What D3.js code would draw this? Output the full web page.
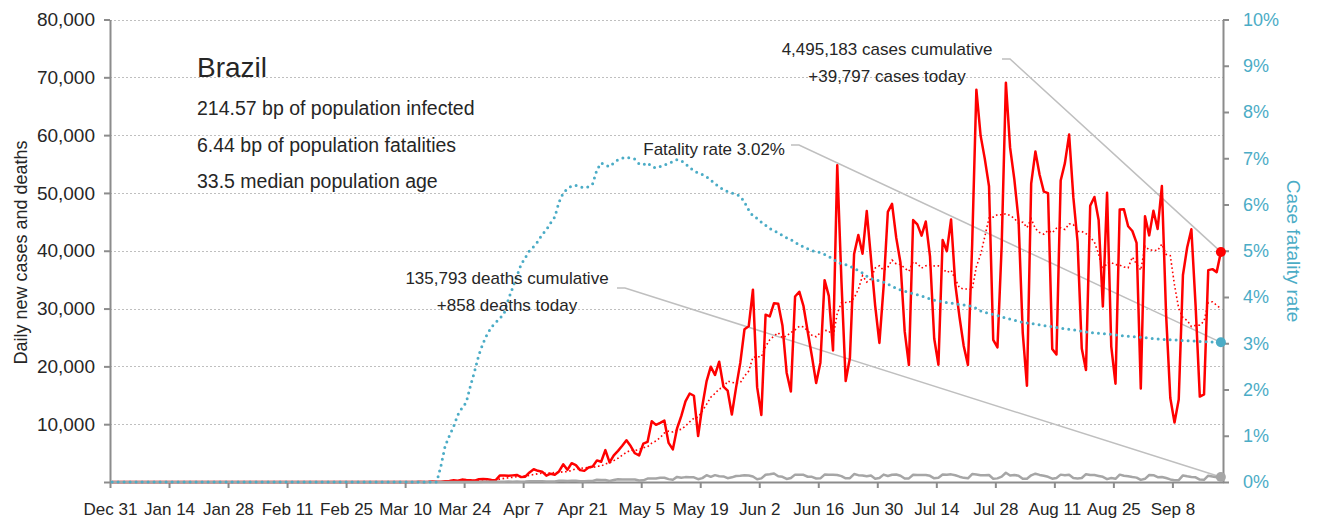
<!DOCTYPE html>
<html lang="en">
<head>
    <meta charset="UTF-8">
    <title>Brazil - daily cases, deaths and case fatality rate</title>
    <script src="https://d3js.org/d3.v7.min.js"></script>
    <style>
        body { margin: 0; background: #ffffff; }
        svg { display: block; }
    </style>
</head>
<body>
    <div id="chart"></div>
    <script>
        // ---- data: one value per reported day, first entry is Dec 31 2019 ----
        var startDate = "2019-12-31";
        var countryName = "Brazil";
        var infoLines = ["214.57 bp of population infected", "6.44 bp of population fatalities", "33.5 median population age"];
        var totalCases = 4495183;
        var totalDeaths = 135793;

        var casesDecJan = [0,0,0,0,0,0,0,0,0,0, 0,0,0,0,0,0,0,0,0,0, 0,0,0,0,0,0,0,0,0,0, 0,0];
        var casesFeb = [0,0,0,0,0,0,0,0,0,0, 0,0,0,0,0,0,0,0,0,0, 0,0,0,0,0,1,0,0,0];
        var casesMar = [1,0,0,1,1,5,5,0,7,5, 9,18,25,21,23,79,34,57,137,193, 283,224,418,345,310,232,482,502,487,352, 323];
        var casesApr = [1138,1119,1074,1146,1222,852,926,1661,2210,1930, 1781,1089,1442,1261,1832,3058,2105,3257,2917,2055, 1927,2498,2678,3735,3503,5514,3379,4613,5385,6276];
        var casesMay = [7218,6209,4970,4588,6633,6935,10503,9888,10222,10611, 6760,5632,9258,11385,13944,15305,14919,7938,13140,17408, 19951,18508,20803,16508,15813,11687,16324,20599,26417,26928, 33274];
        var casesJun = [16409,11598,28936,28633,30925,30830,27075,18912,15654,32091, 32913,30412,25982,21704,17110,20647,34918,32188,22765,54771, 34666,17459,21432,39436,42725,39483,46860,38693,30476,24052];
        var casesJul = [33846,46712,48105,42223,37923,26051,20229,45305,44571,42619, 45048,39023,24831,20286,41857,39924,45403,34177,28532,23529, 20257,41008,67860,59961,55891,51147,24578,23284,40816,69074, 57837];
        var casesAug = [52383,45392,25800,16641,51603,57152,53139,50230,49970,23010, 22048,52160,55155,60091,49274,41576,23101,19373,47784,49298, 45323,30355,50032,23421,17000,47134,47161,44235,43412,41350, 16158];
        var casesSep = [45961,42659,46934,43773,51200,29000,14521,10273,14279,35816, 40557,43718,30500,14768,15155,36653,36820,36303,39797];

        var deathsDecJan = [0,0,0,0,0,0,0,0,0,0, 0,0,0,0,0,0,0,0,0,0, 0,0,0,0,0,0,0,0,0,0, 0,0];
        var deathsFeb = [0,0,0,0,0,0,0,0,0,0, 0,0,0,0,0,0,0,0,0,0, 0,0,0,0,0,0,0,0,0];
        var deathsMar = [0,0,0,0,0,0,0,0,0,0, 0,0,0,0,0,0,0,1,2,3, 5,7,9,12,12,20,15,22,22,22, 23];
        var deathsApr = [42,39,84,35,86,41,67,114,133,141, 115,68,99,105,204,204,188,217,206,115, 113,166,165,407,357,346,189,338,474,449];
        var deathsMay = [435,428,421,275,296,600,615,610,751,730, 496,396,881,749,844,824,816,485,674,1179, 888,1188,1001,965,653,807,1039,1086,1156,1124, 956];
        var deathsJun = [480,623,1262,1349,1473,1005,904,525,679,1272, 1274,1239,909,892,612,627,1282,1269,1238,1206, 1022,641,654,1374,1185,1141,990,1109,552,692];
        var deathsJul = [1280,1038,1252,1290,1091,602,620,1254,1223,1220, 1214,1071,631,733,1300,1261,1322,1163,921,716, 632,1367,1284,1156,1156,1211,555,627,921,1595, 1129];
        var deathsAug = [1212,1088,541,561,1154,1437,1226,1079,905,572, 703,1274,1175,1262,709,620,684,1352,1212,1204, 1054,892,494,684,553,1271,1085,984,855,758, 366];
        var deathsSep = [553,1215,1184,834,874,682,447,310,315,1136, 983,874,814,415,381,1090,967,829,858];

        // case fatality rate (%)
        var cfrDates = ["2019-12-31","2020-03-17","2020-03-18","2020-03-19","2020-03-20","2020-03-21","2020-03-22","2020-03-23","2020-03-24","2020-03-25",
            "2020-03-26","2020-03-27","2020-03-28","2020-03-29","2020-03-30","2020-03-31","2020-04-01","2020-04-02","2020-04-03","2020-04-04",
            "2020-04-05","2020-04-06","2020-04-07","2020-04-08","2020-04-09","2020-04-10","2020-04-11","2020-04-12","2020-04-13","2020-04-14",
            "2020-04-15","2020-04-16","2020-04-17","2020-04-18","2020-04-19","2020-04-20","2020-04-21","2020-04-22","2020-04-23","2020-04-24",
            "2020-04-25","2020-04-26","2020-04-27","2020-04-28","2020-04-29","2020-04-30","2020-05-01","2020-05-02","2020-05-03","2020-05-04",
            "2020-05-05","2020-05-06","2020-05-07","2020-05-08","2020-05-09","2020-05-10","2020-05-11","2020-05-12","2020-05-13","2020-05-14",
            "2020-05-15","2020-05-16","2020-05-17","2020-05-18","2020-05-19","2020-05-20","2020-05-21","2020-05-22","2020-05-23","2020-05-24",
            "2020-05-25","2020-05-26","2020-05-27","2020-05-28","2020-05-29","2020-05-30","2020-05-31","2020-06-01","2020-06-02","2020-06-03",
            "2020-06-04","2020-06-05","2020-06-06","2020-06-07","2020-06-08","2020-06-09","2020-06-10","2020-06-11","2020-06-12","2020-06-13",
            "2020-06-14","2020-06-15","2020-06-16","2020-06-17","2020-06-18","2020-06-19","2020-06-20","2020-06-21","2020-06-22","2020-06-23",
            "2020-06-24","2020-06-25","2020-06-26","2020-06-27","2020-06-28","2020-06-29","2020-06-30","2020-07-01","2020-07-02","2020-07-03",
            "2020-07-05","2020-07-07","2020-07-10","2020-07-13","2020-07-16","2020-07-19","2020-07-22","2020-07-24","2020-07-26","2020-07-28",
            "2020-07-31","2020-08-03","2020-08-07","2020-08-11","2020-08-15","2020-08-19","2020-08-23","2020-08-27","2020-08-31","2020-09-04",
            "2020-09-08","2020-09-12","2020-09-16","2020-09-19"];
        var cfrValues = [0,0,0.35,0.78,1.0,1.2,1.45,1.6,1.72,2.08,
            2.4,2.75,3.0,3.2,3.35,3.45,3.54,3.65,3.95,4.2,
            4.45,4.7,4.85,5.0,5.09,5.2,5.35,5.45,5.6,5.73,
            6.05,6.25,6.34,6.4,6.41,6.38,6.36,6.38,6.45,6.75,
            6.9,6.85,6.82,6.9,6.97,7.0,7.02,7.0,6.98,6.88,
            6.86,6.9,6.82,6.79,6.82,6.86,6.88,6.93,6.97,6.95,
            6.88,6.8,6.73,6.68,6.65,6.6,6.53,6.45,6.38,6.32,
            6.28,6.25,6.22,6.18,6.05,5.88,5.75,5.7,5.62,5.55,
            5.48,5.43,5.39,5.33,5.28,5.24,5.18,5.13,5.08,5.04,
            5.0,4.98,4.96,4.92,4.87,4.83,4.75,4.72,4.7,4.67,
            4.62,4.57,4.52,4.45,4.4,4.37,4.35,4.32,4.28,4.23,
            4.15,4.1,4.02,3.93,3.88,3.84,3.8,3.7,3.64,3.6,
            3.52,3.45,3.4,3.34,3.29,3.23,3.2,3.16,3.13,3.09,
            3.07,3.05,3.03,3.02];

        var xTickDates = ["2019-12-31","2020-01-14","2020-01-28","2020-02-11","2020-02-25","2020-03-10","2020-03-24","2020-04-07","2020-04-21","2020-05-05",
            "2020-05-19","2020-06-02","2020-06-16","2020-06-30","2020-07-14","2020-07-28","2020-08-11","2020-08-25","2020-09-08"];
        var yTicks = [0, 10000, 20000, 30000, 40000, 50000, 60000, 70000, 80000];
        var rateTicks = [0, 1, 2, 3, 4, 5, 6, 7, 8, 9, 10];

        var cases = [].concat(casesDecJan, casesFeb, casesMar, casesApr, casesMay, casesJun, casesJul, casesAug, casesSep);
        var deaths = [].concat(deathsDecJan, deathsFeb, deathsMar, deathsApr, deathsMay, deathsJun, deathsJul, deathsAug, deathsSep);

        // trailing 7 day average of new cases
        var avg7 = cases.map(function (d, i) {
            return d3.mean(cases.slice(Math.max(0, i - 6), i + 1));
        });

        // ---- layout ----
        var fontFamily = '"Liberation Sans", Arial, sans-serif';
        var textColor = "#262626";
        var axisColor = "#8c8c8c";
        var rateColor = "#4bacc6";
        var plotLeft = 110, plotRight = 1223, plotTop = 19.5, plotBottom = 482;

        var svg = d3.select("#chart").append("svg")
            .attr("width", 1324)
            .attr("height", 523)
            .attr("font-family", fontFamily);

        var parseDate = d3.timeParse("%Y-%m-%d");
        var day0 = parseDate(startDate);
        var dates = cases.map(function (d, i) { return d3.timeDay.offset(day0, i); });

        var x = d3.scaleTime()
            .domain([day0, d3.timeDay.offset(day0, cases.length)])
            .range([plotLeft, plotRight]);
        var y = d3.scaleLinear().domain([0, 80000]).range([plotBottom, plotTop]);
        var yRate = d3.scaleLinear().domain([0, 10]).range([plotBottom, plotTop]);

        // a day is drawn in the middle of its slot
        function mid(date) { return x(d3.timeHour.offset(date, 12)); }

        //gridlines
        svg.append("g")
            .selectAll("line")
            .data(yTicks.filter(function (d) { return d > 0; }))
            .join("line")
            .attr("x1", plotLeft)
            .attr("x2", plotRight)
            .attr("y1", function (d) { return Math.round(y(d)) + 0.5; })
            .attr("y2", function (d) { return Math.round(y(d)) + 0.5; })
            .attr("stroke", "#bfbfbf")
            .attr("stroke-width", 1)
            .attr("stroke-dasharray", "2,2");

        //axes
        function styleAxis(g, size, color) {
            g.attr("font-family", fontFamily);
            g.select(".domain").attr("stroke", axisColor).attr("stroke-width", 2);
            g.selectAll(".tick line").attr("stroke", axisColor).attr("stroke-width", 2);
            g.selectAll(".tick text").attr("font-size", size).attr("fill", color);
        }

        var xAxis = svg.append("g")
            .attr("transform", "translate(0," + plotBottom + ")")
            .call(d3.axisBottom(x)
                .tickValues(xTickDates.map(parseDate))
                .tickFormat(d3.timeFormat("%b %-d"))
                .tickSize(6)
                .tickSizeOuter(0)
                .tickPadding(15));
        styleAxis(xAxis, 17, textColor);

        var yAxis = svg.append("g")
            .attr("transform", "translate(" + plotLeft + ",0)")
            .call(d3.axisLeft(y)
                .tickValues(yTicks)
                .tickFormat(function (d) { return d === 0 ? "" : d3.format(",")(d); })
                .tickSize(6)
                .tickSizeOuter(0)
                .tickPadding(9));
        styleAxis(yAxis, 19, textColor);

        var rateAxis = svg.append("g")
            .attr("transform", "translate(" + plotRight + ",0)")
            .call(d3.axisRight(yRate)
                .tickValues(rateTicks)
                .tickFormat(function (d) { return d + "%"; })
                .tickSize(6)
                .tickSizeOuter(0)
                .tickPadding(14));
        styleAxis(rateAxis, 18, rateColor);

        svg.append("text")
            .attr("transform", "translate(27,252.5) rotate(-90)")
            .attr("text-anchor", "middle")
            .attr("font-size", 18)
            .attr("fill", textColor)
            .text("Daily new cases and deaths");

        svg.append("text")
            .attr("transform", "translate(1287,251) rotate(90)")
            .attr("text-anchor", "middle")
            .attr("font-size", 19)
            .attr("fill", rateColor)
            .text("Case fatality rate");

        //end points
        var last = cases.length - 1;
        var lastDate = dates[last];
        var endCases = [mid(lastDate), y(cases[last])];
        var endDeaths = [mid(lastDate), y(deaths[last])];
        var endRate = [mid(lastDate), yRate(cfrValues[cfrValues.length - 1])];

        //leader lines from the callouts
        function leader(x0, y0, end) {
            return "M" + x0 + "," + y0 + "H" + (x0 + 8) + "L" + end[0] + "," + end[1];
        }
        var leaders = svg.append("g")
            .attr("fill", "none")
            .attr("stroke", "#bfbfbf")
            .attr("stroke-width", 1.5);
        leaders.append("path").attr("d", leader(1002, 59, endCases));
        leaders.append("path").attr("d", leader(791, 145, endRate));
        leaders.append("path").attr("d", leader(617, 288, endDeaths));

        var dayLine = d3.line()
            .x(function (d, i) { return mid(dates[i]); })
            .y(function (d) { return y(d); });

        //7 day average
        svg.append("path")
            .attr("d", dayLine(avg7))
            .attr("fill", "none")
            .attr("stroke", "#ff0000")
            .attr("stroke-width", 1.6)
            .attr("stroke-dasharray", "1.6,2.6");

        //cases
        svg.append("path")
            .attr("d", dayLine(cases))
            .attr("fill", "none")
            .attr("stroke", "#ff0000")
            .attr("stroke-width", 2.5)
            .attr("stroke-linejoin", "round");

        //deaths
        svg.append("path")
            .attr("d", dayLine(deaths))
            .attr("fill", "none")
            .attr("stroke", "#a6a6a6")
            .attr("stroke-width", 2.5)
            .attr("stroke-linejoin", "round");

        //case fatality rate
        var rateLine = d3.line()
            .x(function (d, i) { return mid(parseDate(cfrDates[i])); })
            .y(function (d) { return yRate(d); });
        svg.append("path")
            .attr("d", rateLine(cfrValues))
            .attr("fill", "none")
            .attr("stroke", rateColor)
            .attr("stroke-width", 3)
            .attr("stroke-linecap", "round")
            .attr("stroke-dasharray", "0,6");

        svg.append("circle").attr("cx", endCases[0]).attr("cy", endCases[1]).attr("r", 5).attr("fill", "#ff0000");
        svg.append("circle").attr("cx", endRate[0]).attr("cy", endRate[1]).attr("r", 5).attr("fill", rateColor);
        svg.append("circle").attr("cx", endDeaths[0]).attr("cy", endDeaths[1]).attr("r", 5).attr("fill", "#a6a6a6");

        //country block
        var info = svg.append("g").attr("fill", textColor);
        info.append("text")
            .attr("x", 197)
            .attr("y", 77)
            .attr("font-size", 28)
            .text(countryName);
        infoLines.forEach(function (t, i) {
            info.append("text")
                .attr("x", 197)
                .attr("y", 115 + i * 36.7)
                .attr("font-size", 19.5)
                .text(t);
        });

        //callouts
        var fmt = d3.format(",");
        var callouts = svg.append("g").attr("fill", textColor).attr("font-size", 17);
        callouts.append("text").attr("x", 887).attr("y", 55).attr("text-anchor", "middle")
            .text(fmt(totalCases) + " cases cumulative");
        callouts.append("text").attr("x", 887).attr("y", 82).attr("text-anchor", "middle")
            .text("+" + fmt(cases[last]) + " cases today");
        callouts.append("text").attr("x", 785).attr("y", 155).attr("text-anchor", "end")
            .text("Fatality rate " + cfrValues[cfrValues.length - 1].toFixed(2) + "%");
        callouts.append("text").attr("x", 507).attr("y", 284).attr("text-anchor", "middle")
            .text(fmt(totalDeaths) + " deaths cumulative");
        callouts.append("text").attr("x", 507).attr("y", 311).attr("text-anchor", "middle")
            .text("+" + fmt(deaths[last]) + " deaths today");
    </script>
</body>
</html>
